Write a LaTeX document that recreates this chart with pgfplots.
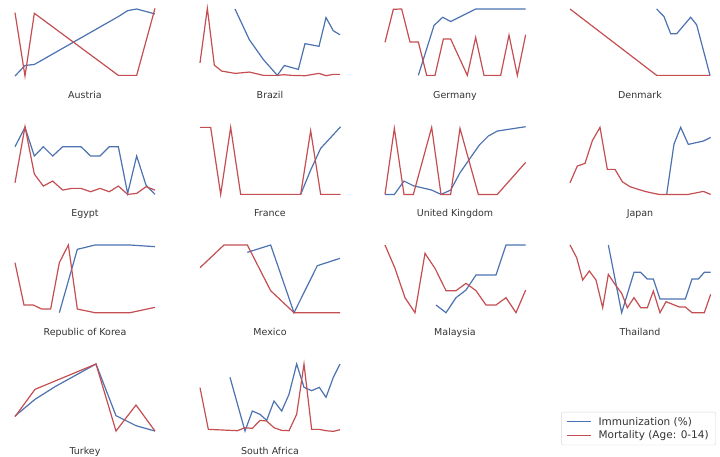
\documentclass[border=0pt]{standalone}
\usepackage{pgfplots}
\pgfplotsset{compat=1.18}
\usepackage{fontspec}
\setmainfont{DejaVu Sans}
\definecolor{blu}{HTML}{4C72B0}
\definecolor{rd}{HTML}{C44E52}
\definecolor{txt}{HTML}{333333}
\pgfplotsset{every axis/.append style={
  scale only axis, width=140pt, height=67.7pt, anchor=north west,
  axis lines=none, ticks=none, y dir=reverse, clip=false,
  title style={at={(0.5,0)}, anchor=north, yshift=-21pt, inner sep=0pt,
    font=\fontsize{9.5}{11}\selectfont, text=txt},
}}
\newcommand{\panel}[9]{%
\begin{axis}[at={(#1pt,-#2pt)}, xmin=#3, xmax=#4, ymin=#5, ymax=#6, title={#7}]
\addplot[blu, line width=1.2pt] coordinates {#8};
\addplot[rd, line width=1.2pt] coordinates {#9};
\end{axis}}
\begin{document}
\begin{tikzpicture}
\path[use as bounding box] (0,0) rectangle (720pt,-457pt);
% Row 1
\panel{15}{8.33}{45}{465}{25}{230}{Austria}
{(45,230) (75,198) (103,195) (355,50) (383,32) (410,27) (465,42)}
{(45,38) (75,230) (103,40) (355,228) (410,228) (465,25)}
\panel{200}{8.33}{60}{480}{25}{230}{Brazil}
{(165,27) (208,120) (250,180) (292,228) (313,198) (355,210) (375,132) (417,140) (438,53) (460,93) (480,105)}
{(60,190) (82,25) (103,197) (125,215) (166,222) (208,218) (250,228) (292,228) (313,226) (335,228) (375,229) (417,222) (438,229) (460,225) (480,225)}
\panel{385}{8.33}{75}{495}{25}{230}{Germany}
{(175,228) (222,77) (248,52) (272,65) (347,27) (497,27)}
{(75,128) (100,28) (125,27) (150,127) (175,127) (200,228) (225,228) (250,118) (272,118) (322,228) (347,113) (372,228) (422,228) (447,106) (472,228) (497,105)}
\panel{570}{8.33}{90}{510}{25}{230}{Denmark}
{(350,27) (372,50) (392,102) (410,102) (452,52) (470,75) (510,228)}
{(90,27) (350,228) (510,228)}
% Row 2
\panel{15}{126.7}{45}{465}{50}{253}{Egypt}
{(45,110) (75,52) (103,138) (130,110) (158,138) (188,110) (243,110) (272,138) (300,138) (328,110) (355,110) (383,250) (410,138) (438,225) (465,253)}
{(45,218) (75,50) (103,192) (130,228) (158,213) (188,240) (215,235) (243,235) (272,245) (300,235) (328,245) (355,228) (383,253) (410,250) (438,230) (465,240)}
\panel{200}{126.7}{60}{480}{50}{253}{France}
{(362,253) (392,180) (422,115) (482,50)}
{(60,52) (92,52) (122,253) (152,52) (182,253) (362,253) (392,62) (422,253) (482,253)}
\panel{385}{126.7}{75}{495}{50}{253}{United Kingdom}
{(75,253) (103,253) (132,213) (160,227) (215,240) (243,253) (272,240) (300,188) (330,145) (358,105) (385,78) (412,63) (497,50)}
{(75,253) (103,55) (132,253) (160,253) (215,52) (243,253) (272,253) (300,55) (355,253) (412,253) (497,157)}
\panel{570}{126.7}{90}{510}{50}{253}{Japan}
{(380,253) (402,102) (422,52) (445,103) (490,93) (512,82)}
{(90,218) (112,168) (135,160) (157,92) (180,52) (202,178) (225,178) (247,215) (270,230) (292,237) (315,244) (337,249) (357,253) (445,253) (490,244) (512,253)}
% Row 3
\panel{15}{245}{45}{465}{60}{263}{Republic of Korea}
{(178,263) (232,73) (285,60) (390,60) (465,65)}
{(45,113) (72,240) (100,240) (125,252) (152,252) (178,113) (205,60) (232,252) (285,263) (390,263) (465,247)}
\panel{200}{245}{600}{1020}{60}{263}{Mexico}
{(742,82) (812,60) (882,263) (952,122) (1020,100)}
{(600,128) (672,60) (742,60) (812,197) (882,263) (1020,263)}
\panel{385}{245}{75}{495}{60}{263}{Malaysia}
{(228,240) (258,263) (288,218) (318,195) (348,150) (408,150) (438,60) (497,60)}
{(75,60) (105,130) (135,218) (165,263) (195,85) (225,130) (258,197) (288,197) (318,175) (348,197) (378,240) (408,240) (438,218) (468,263) (497,195)}
\panel{570}{245}{630}{1050}{60}{263}{Thailand}
{(745,60) (785,263) (822,142) (842,142) (862,162) (880,162) (900,222) (976,222) (996,162) (1015,162) (1033,142) (1052,142)}
{(630,60) (650,98) (668,165) (688,138) (708,165) (728,248) (745,148) (765,178) (785,205) (802,248) (822,218) (842,248) (862,248) (880,198) (900,263) (918,230) (938,238) (958,246) (976,246) (996,263) (1033,263) (1052,208)}
% Row 4
\panel{15}{364}{45}{465}{87}{290}{Turkey}
{(45,243) (105,193) (165,155) (288,87) (348,242) (408,272) (465,288)}
{(45,245) (105,163) (288,87) (348,288) (408,210) (465,288)}
\begin{axis}[at={(200pt,-364pt)}, xmin=600, xmax=1020, ymin=87, ymax=290, title={South Africa},
  legend style={at={(3.685,-0.2)}, anchor=south east, font=\fontsize{10.5}{12}\selectfont, text=txt,
    draw=black!15, rounded corners=2pt, inner xsep=5pt, inner ysep=3pt, row sep=0pt,
    nodes={inner sep=2pt}, /tikz/every odd column/.append style={column sep=5pt}},
  legend cell align=left, legend image code/.code={\draw[#1, line width=1.2pt] (0pt,0pt) -- (24pt,0pt);}]
\addplot[blu, line width=1.2pt] coordinates {(690,127) (735,288) (757,228) (780,238) (800,256) (822,198) (845,228) (867,178) (890,87) (912,157) (935,167) (958,157) (978,187) (1000,127) (1020,87)};
\addlegendentry{Immunization (\%)}
\addplot[rd, line width=1.2pt] coordinates {(600,158) (625,283) (670,285) (712,287) (735,278) (757,280) (780,256) (800,258) (822,278) (845,286) (867,287) (890,238) (912,87) (935,283) (958,283) (978,287) (1000,289) (1020,284)};
\addlegendentry{Mortality (Age: 0-14)}
\end{axis}
\end{tikzpicture}
\end{document}
